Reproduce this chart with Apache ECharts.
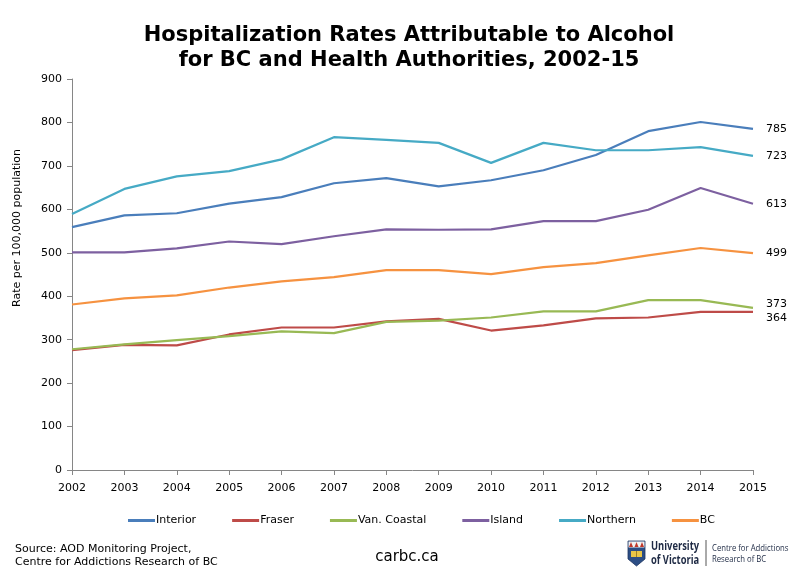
<!DOCTYPE html>
<html>
<head>
<meta charset="utf-8">
<script src="https://cdn.jsdelivr.net/npm/echarts@6/dist/echarts.min.js"></script>
<style>html,body{margin:0;padding:0;background:#fff;}#c{width:799px;height:576px;}</style>
</head>
<body>
<div id="c"></div>
<script>
const years = ['2002','2003','2004','2005','2006','2007','2008','2009','2010','2011','2012','2013','2014','2015'];
const interior = [559,586,591,613,628,660,672,653,667,690,725,780,801,785];
const fraser = [276,288,287,312,328,328,342,348,321,333,349,351,364,364];
const vanCoastal = [278,289,299,308,319,315,341,344,351,365,365,391,391,373];
const island = [501,501,510,526,520,538,554,553,554,573,573,599,649,613];
const northern = [589,647,676,688,715,766,760,753,707,753,736,736,743,723];
const bc = [381,395,402,420,434,444,460,460,451,467,476,494,511,499];
const seriesNames = ['Interior','Fraser','Van. Coastal','Island','Northern','BC'];
const yTicks = [0,100,200,300,400,500,600,700,800,900];

const colors = ['#4A7EBB','#BE4B48','#98B954','#7D60A0','#46AAC5','#F69240'];
const font = 'DejaVu Sans';
const dataSets = [interior, fraser, vanCoastal, island, northern, bc];
const labelOffsets = [[0,0],[0,6],[0,-4],[0,0],[0,0],[0,0]];

const chart = echarts.init(document.getElementById('c'), null, {renderer:'canvas'});
chart.setOption({
  animation: false,
  color: colors,
  textStyle: {fontFamily: font},
  grid: {left: 72, right: 46, top: 79, bottom: 106, containLabel: false},
  xAxis: {
    type: 'category', data: years, boundaryGap: false,
    axisLine: {lineStyle: {color: '#868686', width: 1}},
    axisTick: {show: true, length: 5, interval: 0, lineStyle: {color: '#868686'}},
    axisLabel: {color: '#000', fontSize: 11, fontFamily: font, margin: 13, interval: 0}
  },
  yAxis: {
    type: 'value', min: yTicks[0], max: yTicks[yTicks.length-1], interval: 100,
    axisLine: {show: true, lineStyle: {color: '#868686', width: 1}},
    axisTick: {show: true, length: 5, lineStyle: {color: '#868686'}},
    axisLabel: {color: '#000', fontSize: 11, fontFamily: font, margin: 10},
    splitLine: {show: false}
  },
  legend: {
    data: seriesNames, left: 123, top: 510, icon: 'rect', itemWidth: 27, itemHeight: 3,
    itemGap: 36, textStyle: {color: '#000', fontSize: 11, fontFamily: font, padding: [0,0,0,-4]}
  },
  series: seriesNames.map((n, i) => ({
    name: n, type: 'line', data: dataSets[i], symbol: 'none', smooth: false,
    lineStyle: {width: 2.2, color: colors[i]},
    endLabel: {show: true, formatter: p => String(p.value), color: '#000', fontSize: 11,
               fontFamily: font, distance: 13, offset: labelOffsets[i]}
  })),
  graphic: [
    {type:'text', x: 409, y: 36, style:{text:'Hospitalization Rates Attributable to Alcohol', font:'bold 21px "DejaVu Sans"', fill:'#000', textAlign:'center', textVerticalAlign:'middle'}},
    {type:'text', x: 409, y: 61, style:{text:'for BC and Health Authorities, 2002-15', font:'bold 21px "DejaVu Sans"', fill:'#000', textAlign:'center', textVerticalAlign:'middle'}},
    {type:'text', x: 17, y: 228, rotation: Math.PI/2, style:{text:'Rate per 100,000 population', font:'11px "DejaVu Sans"', fill:'#000', textAlign:'center', textVerticalAlign:'middle'}},
    {type:'text', x: 15, y: 549, style:{text:'Source: AOD Monitoring Project,', font:'11px "DejaVu Sans"', fill:'#000', textVerticalAlign:'middle'}},
    {type:'text', x: 15, y: 562, style:{text:'Centre for Addictions Research of BC', font:'11px "DejaVu Sans"', fill:'#000', textVerticalAlign:'middle'}},
    {type:'text', x: 407, y: 557, style:{text:'carbc.ca', font:'15px "DejaVu Sans"', fill:'#000', textAlign:'center', textVerticalAlign:'middle'}},
    // logo shield
    {type:'polygon', shape:{points:[[628,541],[645,541],[645,559],[636.5,566],[628,559]]}, style:{fill:'#2C4E85', stroke:'#1E3560', lineWidth:0.8}},
    {type:'rect', shape:{x:628.5,y:541.5,width:16,height:6}, style:{fill:'#F2F2F2'}},
    {type:'polygon', shape:{points:[[629,547],[631,542],[633,547]]}, style:{fill:'#C0392B'}},
    {type:'polygon', shape:{points:[[634.5,547],[636.5,542],[638.5,547]]}, style:{fill:'#C0392B'}},
    {type:'polygon', shape:{points:[[640,547],[642,542],[644,547]]}, style:{fill:'#C0392B'}},
    {type:'rect', shape:{x:631,y:551,width:11,height:6}, style:{fill:'#E8C547'}},
    {type:'line', shape:{x1:636.5,y1:551,x2:636.5,y2:557}, style:{stroke:'#8a6d1c', lineWidth:0.8}},
    {type:'text', x: 651, y: 547, scaleX: 0.78, style:{text:'University', font:'bold 12px "Open Sans"', fill:'#1E2A44', textVerticalAlign:'middle'}},
    {type:'text', x: 651, y: 561, scaleX: 0.78, style:{text:'of Victoria', font:'bold 12px "Open Sans"', fill:'#1E2A44', textVerticalAlign:'middle'}},
    {type:'line', shape:{x1:706,y1:540,x2:706,y2:566}, style:{stroke:'#555', lineWidth:1}},
    {type:'text', x: 712, y: 548, scaleX: 0.86, style:{text:'Centre for Addictions', font:'9px "Open Sans"', fill:'#1E2A44', textVerticalAlign:'middle'}},
    {type:'text', x: 712, y: 559, scaleX: 0.86, style:{text:'Research of BC', font:'9px "Open Sans"', fill:'#1E2A44', textVerticalAlign:'middle'}}
  ]
});
</script>
</body>
</html>
